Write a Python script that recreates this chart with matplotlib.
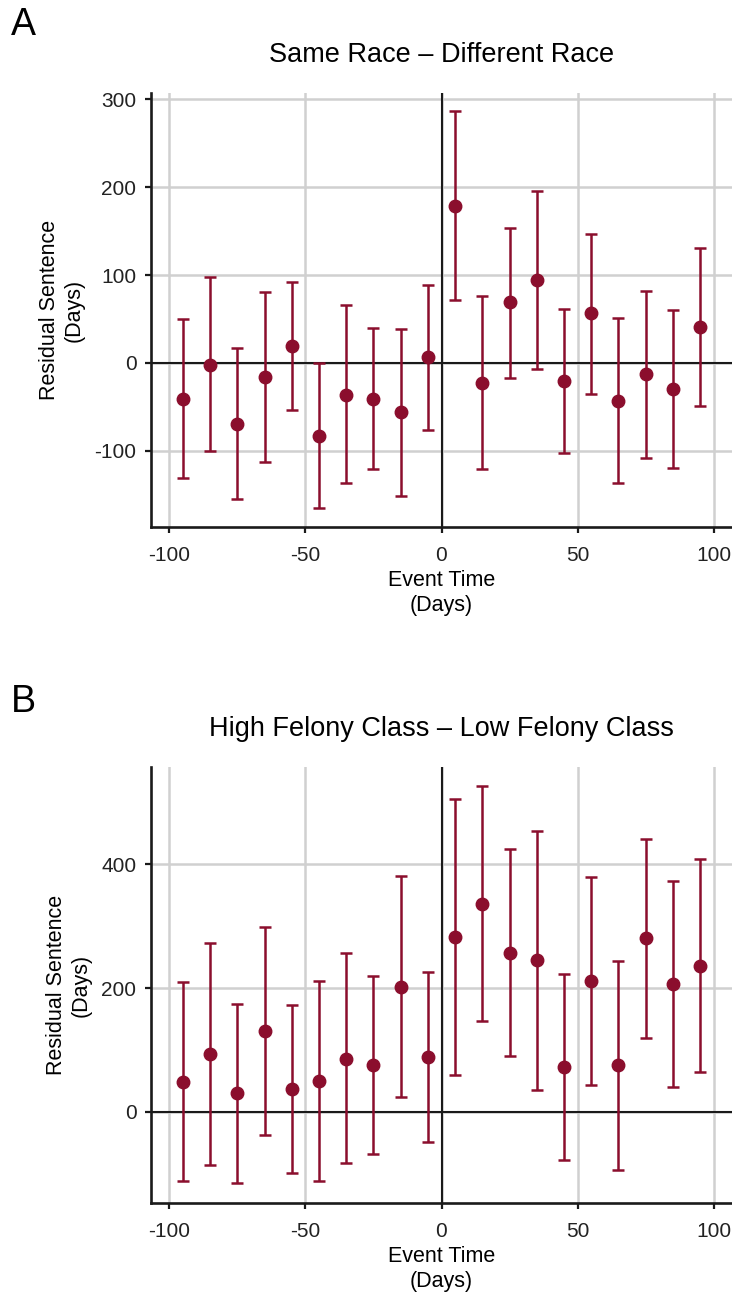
import matplotlib
matplotlib.use("Agg")
import matplotlib.pyplot as plt

plt.rcParams['font.family'] = ['Liberation Sans', 'DejaVu Sans']
plt.rcParams['axes.unicode_minus'] = False

# ---------------- DATA ----------------
event_time = [-95, -85, -75, -65, -55, -45, -35, -25, -15, -5,
              5, 15, 25, 35, 45, 55, 65, 75, 85, 95]

race_est = [-41, -2, -69, -16, 19, -83, -36, -41, -56, 7,
            179, -23, 69, 94, -21, 57, -43, -13, -30, 41]
race_lo = [-131, -100, -155, -113, -54, -165, -137, -121, -151, -76,
           72, -121, -17, -7, -102, -35, -137, -108, -119, -49]
race_hi = [50, 98, 17, 81, 92, 0, 66, 40, 39, 89,
           287, 76, 154, 196, 61, 147, 51, 82, 60, 131]

felony_est = [48, 94, 30, 131, 37, 50, 86, 76, 202, 89,
              282, 336, 257, 245, 72, 211, 75, 280, 207, 236]
felony_lo = [-112, -85, -115, -37, -98, -112, -83, -67, 24, -48,
             59, 146, 90, 36, -77, 43, -93, 120, 40, 65]
felony_hi = [210, 273, 175, 298, 173, 212, 256, 220, 380, 226,
             505, 526, 424, 454, 222, 379, 243, 440, 373, 408]

x_ticks = [-100, -50, 0, 50, 100]
race_yticks = [-100, 0, 100, 200, 300]
felony_yticks = [0, 200, 400]

RED = '#8b0e2d'
GRID = '#d0d0d0'
INK = '#1a1a1a'


def draw_panel(ax, est, lo, hi, title, yticks, ylim):
    yerr = [[e - l for e, l in zip(est, lo)], [h - e for e, h in zip(est, hi)]]

    ax.grid(True, color=GRID, lw=1.8, zorder=0)
    ax.set_axisbelow(True)
    ax.axhline(0, color=INK, lw=1.5, zorder=2)
    ax.axvline(0, color=INK, lw=1.5, zorder=2)

    ax.errorbar(event_time, est, yerr=yerr, fmt='o', color=RED, ms=9,
                elinewidth=1.8, capsize=4, capthick=1.8, zorder=3)

    ax.set_xlim(-106.7, 106.7)
    ax.set_ylim(*ylim)
    ax.set_xticks(x_ticks)
    ax.set_yticks(yticks)

    for side in ['top', 'right']:
        ax.spines[side].set_visible(False)
    for side in ['left', 'bottom']:
        ax.spines[side].set_color(INK)
        ax.spines[side].set_linewidth(1.9)
    ax.tick_params(axis='both', length=4.5, width=1.6, color=INK,
                   labelsize=15, labelcolor='#222222')
    ax.tick_params(axis='y', pad=6)
    ax.tick_params(axis='x', pad=9)

    ax.set_title(title, fontsize=19.5, pad=22)
    ax.set_xlabel("Event Time\n(Days)", fontsize=15.5, labelpad=3.5,
                  linespacing=1.3)
    ax.set_ylabel("Residual Sentence\n(Days)", fontsize=15.5, labelpad=7)


fig = plt.figure(figsize=(7.32, 12.93), dpi=100)
W, H = 732, 1293

ax_a = fig.add_axes([151 / W, 1 - 527 / H, (W - 151) / W, (527 - 93) / H])
ax_b = fig.add_axes([151 / W, 1 - 1203 / H, (W - 151) / W, (1203 - 767) / H])

draw_panel(ax_a, race_est, race_lo, race_hi, "Same Race – Different Race",
           race_yticks, (-186.6, 307.2))
draw_panel(ax_b, felony_est, felony_lo, felony_hi,
           "High Felony Class – Low Felony Class",
           felony_yticks, (-146.8, 556.5))

fig.text(11 / W, 1 - 35 / H, "A", fontsize=27, va='baseline', ha='left')
fig.text(11 / W, 1 - 712 / H, "B", fontsize=27, va='baseline', ha='left')

fig.savefig("out.png", dpi=100)
